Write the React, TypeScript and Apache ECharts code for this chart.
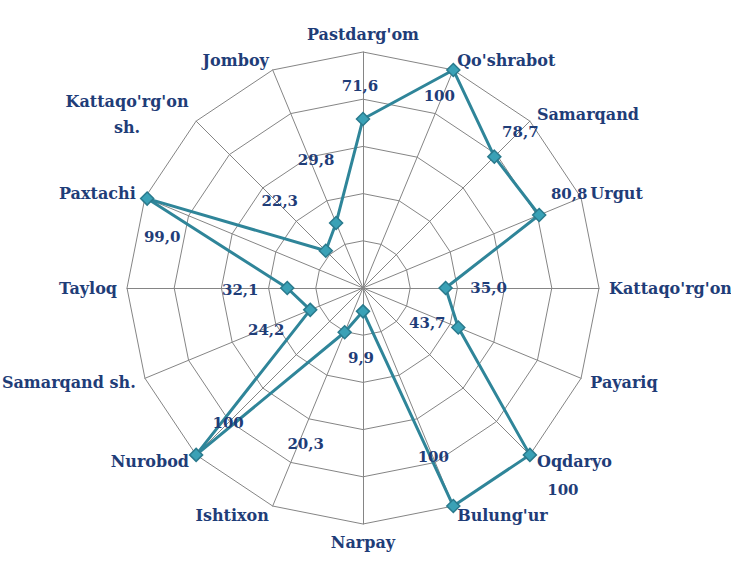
import React, { useEffect, useRef } from "react";
import * as echarts from "echarts";

// Clockwise from the top
const districts = [
  "Pastdarg'om",
  "Qo'shrabot",
  "Samarqand",
  "Urgut",
  "Kattaqo'rg'on",
  "Payariq",
  "Oqdaryo",
  "Bulung'ur",
  "Narpay",
  "Ishtixon",
  "Nurobod",
  "Samarqand sh.",
  "Tayloq",
  "Paxtachi",
  "Kattaqo'rg'on sh.",
  "Jomboy",
];
const values = [71.6, 100, 78.7, 80.8, 35.0, 43.7, 100, 100, 9.9, 20.3, 100, 24.2, 32.1, 99.0, 22.3, 29.8];
const valueLabels = ["71,6", "100", "78,7", "80,8", "35,0", "43,7", "100", "100", "9,9", "20,3", "100", "24,2", "32,1", "99,0", "22,3", "29,8"];
const axisMin = 0;
const axisMax = 100;
const ringCount = 5;

// label offsets (px) relative to each point, clockwise order
const labelOffsets: [number, number][] = [
  [-3, -33],
  [-14, 26],
  [26, -25],
  [30, -21],
  [43, 0],
  [-31, -4],
  [33, 35],
  [-20, -49],
  [-2, 47],
  [-39, 112],
  [32, -32],
  [-44, 20],
  [-47, 2],
  [15, 38],
  [-46, -50],
  [-20, -63],
];

const TEXT_COLOR = "#1f3d78";
const LINE_COLOR = "#2f8599";
const GRID_COLOR = "#858585";
const FONT = "DejaVu Serif";

export default function App() {
  const ref = useRef<HTMLDivElement>(null);

  useEffect(() => {
    if (!ref.current) return;
    const chart = echarts.init(ref.current, undefined, { renderer: "svg" });
    const n = districts.length;
    // ECharts lays indicators counter-clockwise; reorder to get clockwise
    const order = districts.map((_, k) => (k === 0 ? 0 : n - k));
    const orderedValues = order.map((i) => values[i]);

    const labelSeries = order.map((orig, k) => ({
      type: "radar",
      silent: true,
      z: 5,
      symbol: "circle",
      symbolSize: 1,
      itemStyle: { color: "transparent", borderWidth: 0 },
      lineStyle: { opacity: 0, width: 0 },
      label: {
        show: true,
        position: "inside",
        offset: labelOffsets[orig],
        color: TEXT_COLOR,
        fontFamily: FONT,
        fontWeight: "bold",
        fontSize: 15,
        align: "center",
        verticalAlign: "middle",
        formatter: (p: any) => (p.dimensionIndex === k ? valueLabels[orig] : ""),
      },
      data: [{ value: orderedValues, name: "lbl" + k }],
    }));

    chart.setOption({
      animation: false,
      backgroundColor: "#ffffff",
      radar: {
        center: [363, 288],
        radius: 236,
        startAngle: 90,
        splitNumber: ringCount,
        shape: "polygon",
        nameGap: 10,
        indicator: order.map((i) => ({ name: districts[i], min: axisMin, max: axisMax })),
        axisName: {
          color: TEXT_COLOR,
          fontFamily: FONT,
          fontWeight: "bold",
          fontSize: 16,
          formatter: (name: string) => {
            if (name === "Kattaqo'rg'on sh.") {
              return "{c|Kattaqo'rg'on}\n{c|sh.}";
            }
            return name;
          },
          rich: {
            c: {
              width: 124,
              align: "center",
              lineHeight: 26,
              color: TEXT_COLOR,
              fontFamily: FONT,
              fontWeight: "bold",
              fontSize: 16,
            },
          },
        },
        axisLine: { lineStyle: { color: GRID_COLOR, width: 1 } },
        splitLine: { lineStyle: { color: GRID_COLOR, width: 1 } },
        splitArea: { show: false },
        axisTick: { show: false },
        axisLabel: { show: false },
      },
      series: [
        {
          type: "radar",
          z: 3,
          symbol: "diamond",
          symbolSize: 13,
          itemStyle: { color: "#3aa1b6", borderColor: "#2a7a8d", borderWidth: 1.5 },
          lineStyle: { color: LINE_COLOR, width: 3 },
          label: { show: false },
          data: [{ value: orderedValues, name: "Ulush" }],
        },
        ...labelSeries,
      ],
    });
    return () => chart.dispose();
  }, []);

  return (
    <div
      ref={ref}
      style={{ position: "fixed", left: 0, top: 0, width: 731, height: 563, background: "#fff" }}
    />
  );
}
